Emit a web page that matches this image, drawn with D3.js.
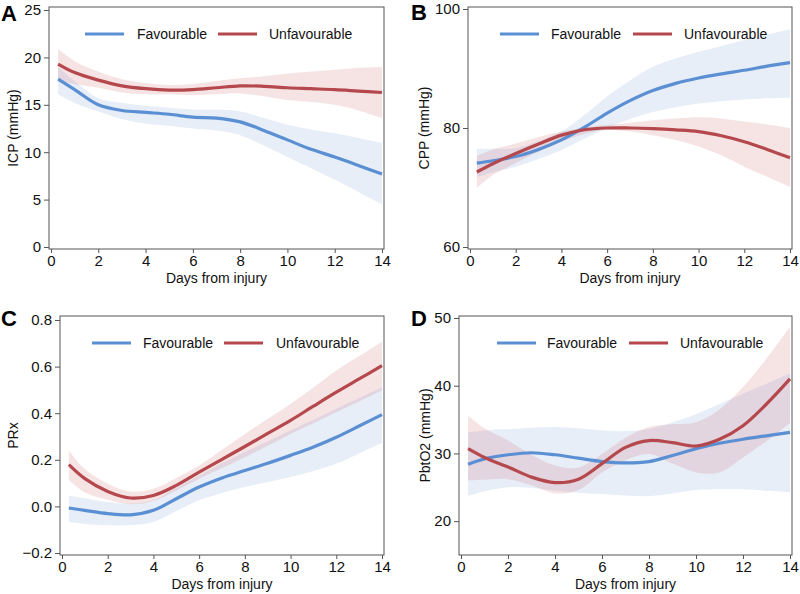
<!DOCTYPE html>
<html><head><meta charset="utf-8">
<script src="https://cdn.jsdelivr.net/npm/d3@7"></script>
<style>body{margin:0;background:#fff}svg{display:block;font-family:"Liberation Sans",Arial,sans-serif}</style>
</head><body><svg id="c" width="800" height="594"></svg>
<script>
const days = [0.3,1,2,3,4,5,6,7,8,9,10,11,12,13,14];
const seriesNames = ["Favourable","Unfavourable"];
const xTicks = [0,2,4,6,8,10,12,14];

// Panel A: ICP
const icpFav   = [17.7,16.6,15.0,14.4,14.2,14.0,13.7,13.6,13.2,12.3,11.3,10.3,9.5,8.6,7.7];
const icpFavLo = [16.1,15.2,14.3,13.5,13.0,12.8,12.5,12.3,11.8,10.7,9.5,8.3,7.1,5.8,4.5];
const icpFavHi = [19.0,17.5,15.7,15.2,14.9,14.7,14.5,14.5,14.3,13.6,12.9,12.4,12.0,11.5,11.0];
const icpUnf   = [19.3,18.4,17.6,17.0,16.7,16.55,16.6,16.8,17.0,16.95,16.8,16.7,16.6,16.45,16.3];
const icpUnfLo = [17.7,17.2,16.8,16.3,16.1,16.1,16.0,16.1,16.2,15.9,15.5,15.3,15.0,14.4,13.6];
const icpUnfHi = [20.9,19.6,18.5,17.7,17.3,17.1,17.2,17.5,17.8,18.0,18.3,18.5,18.7,18.9,19.0];
const icpTicks = [0,5,10,15,20,25];

// Panel B: CPP
const cppFav   = [74.1,74.5,75.2,76.4,78.0,80.1,82.5,84.6,86.3,87.5,88.4,89.1,89.7,90.4,91.0];
const cppFavLo = [71.8,72.5,73.5,74.8,76.3,78.2,80.0,81.5,82.7,83.5,84.1,84.5,84.8,85.0,85.1];
const cppFavHi = [76.5,76.5,76.6,77.8,79.4,82.2,85.3,88.0,90.3,91.7,92.8,93.8,94.8,95.7,96.6];
const cppUnf   = [72.6,74.0,75.7,77.3,78.8,79.7,80.0,80.0,79.9,79.7,79.4,78.7,77.7,76.4,75.0];
const cppUnfLo = [69.9,72.1,74.1,76.0,77.7,79.0,79.7,79.4,78.8,78.0,76.9,75.4,73.5,71.8,70.1];
const cppUnfHi = [75.3,76.4,77.4,78.5,79.4,80.1,80.5,80.9,81.3,81.6,81.8,81.6,81.1,80.6,80.0];
const cppTicks = [60,80,100];

// Panel C: PRx
const prxFav   = [-0.007,-0.017,-0.031,-0.036,-0.017,0.033,0.083,0.122,0.154,0.185,0.219,0.255,0.297,0.345,0.394];
const prxFavLo = [-0.067,-0.075,-0.081,-0.08,-0.067,-0.02,0.026,0.058,0.083,0.105,0.126,0.152,0.183,0.227,0.273];
const prxFavHi = [0.047,0.035,0.019,0.012,0.026,0.08,0.133,0.185,0.233,0.28,0.326,0.372,0.419,0.465,0.511];
const prxUnf   = [0.179,0.119,0.064,0.036,0.047,0.09,0.147,0.202,0.257,0.313,0.369,0.43,0.49,0.547,0.604];
const prxUnfLo = [0.114,0.06,0.029,0.009,0.023,0.068,0.119,0.165,0.211,0.26,0.311,0.357,0.404,0.45,0.497];
const prxUnfHi = [0.24,0.16,0.097,0.064,0.076,0.122,0.176,0.243,0.311,0.376,0.44,0.51,0.583,0.645,0.707];
const prxTicks = [-0.2,0,0.2,0.4,0.6,0.8];

// Panel D: PbtO2
const pboFav   = [28.4,29.2,29.8,30.1,29.8,29.3,28.8,28.6,28.8,29.7,30.7,31.5,32.1,32.6,33.1];
const pboFavLo = [23.7,24.4,25.0,24.9,24.5,24.2,24.0,23.8,23.7,24.1,24.6,24.7,24.7,24.5,24.3];
const pboFavHi = [33.1,33.4,33.6,33.8,33.9,33.7,33.4,33.3,33.6,34.6,35.8,37.3,38.8,40.3,41.8];
const pboUnf   = [30.7,29.4,28.0,26.5,25.7,26.2,28.5,30.9,31.9,31.6,31.1,32.1,34.1,37.3,41.0];
const pboUnfLo = [26.0,26.1,26.2,25.3,24.1,24.6,27.2,29.0,29.9,28.5,27.2,27.2,29.4,31.8,34.5];
const pboUnfHi = [35.6,33.7,31.9,29.8,28.2,27.9,29.9,32.3,33.9,34.3,34.6,36.5,39.8,44.0,48.7];
const pboTicks = [20,30,40,50];

const BLUE = "#5b8fd3", RED = "#b5484d";
const BLUE_F = "rgba(91,143,211,0.15)", RED_F = "rgba(200,90,95,0.16)";

const panels = [
  {letter:"A", ylab:"ICP (mmHg)", box:[49,7,384,249], ydom:[0,25], yr:[247,10], ticks:icpTicks, fmt:d3.format("d"),
   fav:[icpFav,icpFavLo,icpFavHi], unf:[icpUnf,icpUnfLo,icpUnfHi], letterPos:[1,21], ylabX:13, leg:[85,137,218,269], legY:34},
  {letter:"B", ylab:"CPP (mmHg)", box:[468,7,792,249], ydom:[60,100], yr:[247,9], ticks:cppTicks, fmt:d3.format("d"),
   fav:[cppFav,cppFavLo,cppFavHi], unf:[cppUnf,cppUnfLo,cppUnfHi], letterPos:[411,20], ylabX:424, leg:[500,551,633,684], legY:34},
  {letter:"C", ylab:"PRx", box:[60,316,384,555], ydom:[-0.2,0.8], yr:[553,320], ticks:prxTicks, fmt:d3.format(".1f"),
   fav:[prxFav,prxFavLo,prxFavHi], unf:[prxUnf,prxUnfLo,prxUnfHi], letterPos:[1,326], ylabX:13, leg:[92,143,224,276], legY:343},
  {letter:"D", ylab:"PbtO2 (mmHg)", box:[459,316,792,555], ydom:[15,50], yr:[555,318], ticks:pboTicks, fmt:d3.format("d"),
   fav:[pboFav,pboFavLo,pboFavHi], unf:[pboUnf,pboUnfLo,pboUnfHi], letterPos:[411,326], ylabX:425, leg:[497,547,629,680], legY:343}
];

const svg = d3.select("#c");
const curve = d3.curveCatmullRom.alpha(0.5);

panels.forEach(p => {
  const [L,T,R,B] = p.box;
  const x = d3.scaleLinear().domain([0,14]).range([L+2,R-2]);
  const y = d3.scaleLinear().domain(p.ydom).range(p.yr);
  const g = svg.append("g");

  const area = d3.area().x((d,i)=>x(days[i])).y0(d=>y(d[0])).y1(d=>y(d[1])).curve(curve);
  const line = d3.line().x((d,i)=>x(days[i])).y(d=>y(d)).curve(curve);
  const band = s => s[1].map((v,i)=>[v,s[2][i]]);

  g.append("path").attr("d", area(band(p.fav))).attr("fill", BLUE_F);
  g.append("path").attr("d", area(band(p.unf))).attr("fill", RED_F);
  g.append("path").attr("d", line(p.fav[0])).attr("fill","none").attr("stroke",BLUE).attr("stroke-width",3.2);
  g.append("path").attr("d", line(p.unf[0])).attr("fill","none").attr("stroke",RED).attr("stroke-width",3.2);

  // frame
  g.append("rect").attr("x",L).attr("y",T).attr("width",R-L).attr("height",B-T)
    .attr("fill","none").attr("stroke","#555").attr("stroke-width",1);

  // axes
  const xa = g.append("g").attr("transform",`translate(0,${B})`)
    .call(d3.axisBottom(x).tickValues(xTicks).tickSize(4).tickPadding(2).tickFormat(d3.format("d")));
  const ya = g.append("g").attr("transform",`translate(${L},0)`)
    .call(d3.axisLeft(y).tickValues(p.ticks).tickSize(5).tickPadding(3).tickFormat(d => p.fmt(d).replace("-","\u2212")));
  [xa,ya].forEach(a => {
    a.select(".domain").remove();
    a.selectAll("line").attr("stroke","#555");
    a.selectAll("text").attr("font-size",15).attr("fill","#111").attr("font-family","Liberation Sans, Arial, sans-serif");
  });

  g.append("text").attr("x",(L+R)/2).attr("y",B+34).attr("text-anchor","middle")
    .attr("font-size",14).attr("fill","#111").text("Days from injury");
  g.append("text").attr("transform",`translate(${p.ylabX},${(T+B)/2}) rotate(-90)`)
    .attr("text-anchor","middle").attr("dominant-baseline","central").attr("font-size",14).attr("fill","#111").text(p.ylab);

  g.append("text").attr("x",p.letterPos[0]).attr("y",p.letterPos[1]).attr("font-size",22)
    .attr("font-weight","bold").attr("fill","#000").text(p.letter);

  // legend
  const [l1,t1,l2,t2] = p.leg;
  const ly = p.legY;
  [[l1,t1,BLUE,seriesNames[0]],[l2,t2,RED,seriesNames[1]]].forEach(([lx,tx,c,name]) => {
    g.append("line").attr("x1",lx).attr("x2",lx+39).attr("y1",ly).attr("y2",ly).attr("stroke",c).attr("stroke-width",3.2);
    g.append("text").attr("x",tx).attr("y",ly).attr("dominant-baseline","central").attr("font-size",14).attr("fill","#111").text(name);
  });
});
</script></body></html>
